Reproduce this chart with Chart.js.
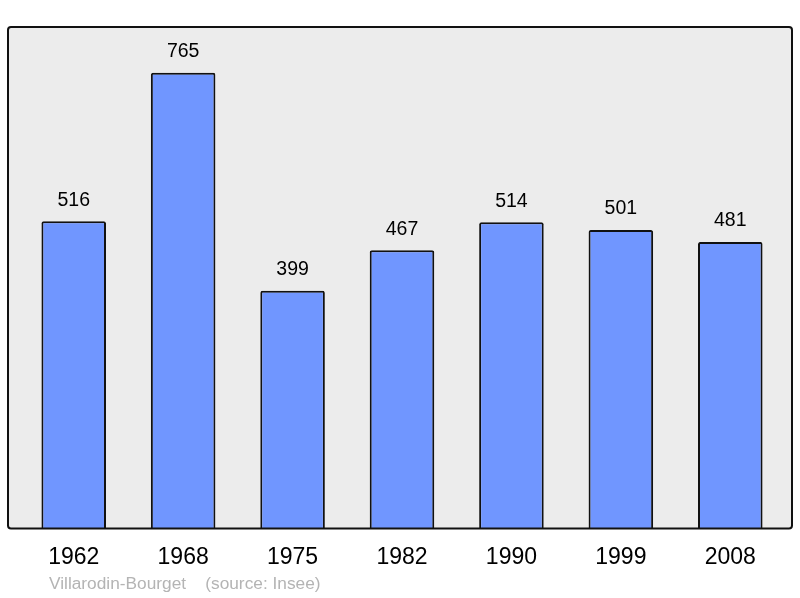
<!DOCTYPE html>
<html>
<head>
<meta charset="utf-8">
<script src="https://cdn.jsdelivr.net/npm/chart.js@4/dist/chart.umd.min.js"></script>
<style>
  html, body { margin:0; padding:0; background:#fff; }
  #wrap { width:800px; height:598px; }
</style>
</head>
<body>
<div id="wrap"><canvas id="pop"></canvas></div>
<script>
// population par recensement
const years = ['1962','1968','1975','1982','1990','1999','2008'];
const population = [516, 765, 399, 467, 514, 501, 481];
const yMax = 842;
const caption = 'Villarodin-Bourget    (source: Insee)';

// fond gris + cadre autour de la zone du graphe
const framePlugin = {
  id: 'frame',
  beforeDraw(chart){
    const { ctx, chartArea: a } = chart;
    const x = a.left - 11, y = a.top, w = a.right - a.left + 18, h = a.bottom - a.top;
    ctx.save();
    ctx.beginPath();
    ctx.roundRect(x, y, w, h, 3);
    ctx.fillStyle = '#ececec';
    ctx.fill();
    ctx.restore();
  },
  afterDatasetsDraw(chart){
    const { ctx, chartArea: a } = chart;
    const x = a.left - 11, y = a.top, w = a.right - a.left + 18, h = a.bottom - a.top;
    ctx.save();
    ctx.beginPath();
    ctx.roundRect(x, y, w, h, 3);
    ctx.lineWidth = 2;
    ctx.strokeStyle = '#111';
    ctx.stroke();

    // valeurs au-dessus des barres
    const meta = chart.getDatasetMeta(0);
    ctx.font = '19.5px "Liberation Sans", Arial, sans-serif';
    ctx.fillStyle = '#000';
    ctx.textAlign = 'center';
    ctx.textBaseline = 'middle';
    meta.data.forEach((bar, i) => {
      ctx.fillText(String(population[i]), bar.x, bar.y - 21);
    });

    // légende source
    ctx.font = '17.3px "Liberation Sans", Arial, sans-serif';
    ctx.fillStyle = '#b4b4b4';
    ctx.textAlign = 'left';
    ctx.fillText(caption, 49, 584);
    ctx.restore();
  }
};

new Chart(document.getElementById('pop'), {
  type: 'bar',
  data: {
    labels: years,
    datasets: [{
      data: population,
      backgroundColor: '#7096ff',
      borderColor: '#111',
      borderWidth: 2,
      borderRadius: 2,
      borderSkipped: 'bottom',
      categoryPercentage: 1,
      barPercentage: 0.59
    }]
  },
  options: {
    responsive: true,
    maintainAspectRatio: false,
    animation: false,
    layout: { padding: { top: 27, left: 19, right: 15, bottom: 12 } },
    plugins: { legend: { display: false }, tooltip: { enabled: false } },
    scales: {
      x: {
        grid: { display: false, drawTicks: false },
        border: { display: false },
        ticks: {
          padding: 15,
          color: '#000',
          font: { family: '"Liberation Sans", Arial, sans-serif', size: 23 }
        }
      },
      y: {
        display: false,
        min: 0,
        max: yMax
      }
    }
  },
  plugins: [framePlugin]
});
</script>
</body>
</html>
